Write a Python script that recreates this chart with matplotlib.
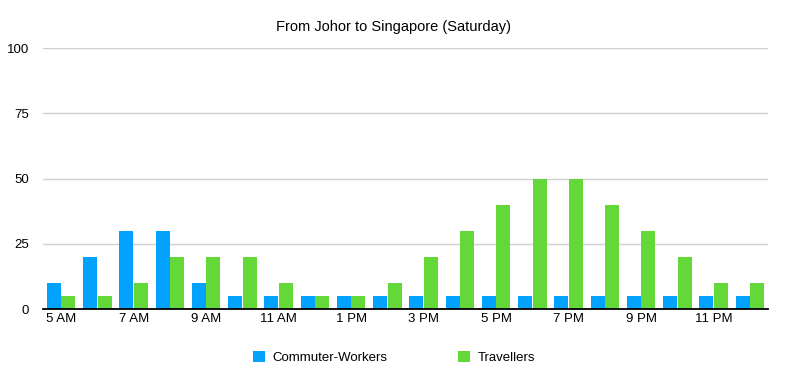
import matplotlib.pyplot as plt
import numpy as np

plt.rcParams['font.family'] = ['Liberation Sans', 'DejaVu Sans']

hours = ['5 AM', '6 AM', '7 AM', '8 AM', '9 AM', '10 AM', '11 AM', '12 PM',
         '1 PM', '2 PM', '3 PM', '4 PM', '5 PM', '6 PM', '7 PM', '8 PM',
         '9 PM', '10 PM', '11 PM', '12 AM']
commuters = [10, 20, 30, 30, 10, 5, 5, 5, 5, 5, 5, 5, 5, 5, 5, 5, 5, 5, 5, 5]
travellers = [5, 5, 10, 20, 20, 20, 10, 5, 5, 10, 20, 30, 40, 50, 50, 40, 30, 20, 10, 10]

blue = '#04A2FF'
green = '#63D838'

fig = plt.figure(figsize=(7.88, 3.82), dpi=100)
ax = fig.add_axes([0.0546, 0.191, 0.92, 0.683])

x = np.arange(len(hours))
w = 0.39
ax.bar(x - 0.2, commuters, w, color=blue, label='Commuter-Workers', zorder=3)
ax.bar(x + 0.2, travellers, w, color=green, label='Travellers', zorder=3)

ax.set_xlim(-0.5, len(hours) - 0.5)
ax.set_ylim(0, 100)
ax.set_yticks([0, 25, 50, 75, 100])
ax.set_xticks(x[::2])
ax.set_xticklabels(hours[::2])
ax.tick_params(axis='both', length=0, labelsize=9.5)
ax.tick_params(axis='y', pad=10)
ax.tick_params(axis='x', pad=3)

ax.grid(axis='y', color='#d0d0d0', linewidth=1, zorder=0)
for s in ['top', 'right', 'left']:
    ax.spines[s].set_visible(False)
ax.spines['bottom'].set_color('black')
ax.spines['bottom'].set_linewidth(1.3)
ax.spines['bottom'].set_zorder(4)

fig.text(0.5, 0.93, 'From Johor to Singapore (Saturday)', ha='center', va='center', fontsize=10.5)

fig.legend(loc='center', bbox_to_anchor=(0.5, 0.063), ncol=2, frameon=False,
           fontsize=9.5, handlelength=0.9, handleheight=0.9, columnspacing=5.3,
           handletextpad=0.6)

fig.savefig('out.png', dpi=100)
